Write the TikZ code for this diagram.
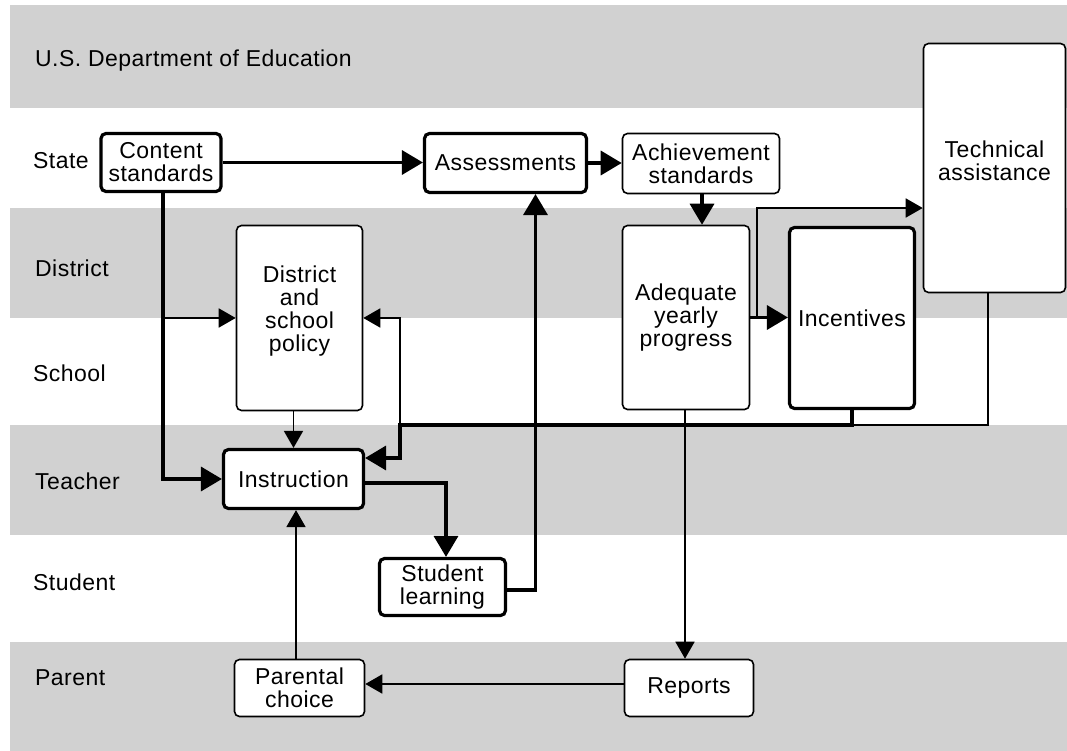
\documentclass[tikz,border=0pt]{standalone}
\usepackage{fontspec}
\setmainfont{Liberation Sans}[LetterSpace=2]
\usetikzlibrary{arrows.meta}
\definecolor{bandgray}{RGB}{209,209,209}
\begin{document}
\begin{tikzpicture}[x=1pt,y=-1pt,
  every node/.style={font=\fontsize{23pt}{23pt}\selectfont},
  box/.style={draw, fill=white, rounded corners=5pt, align=center, inner sep=0pt},
  thickbox/.style={box, line width=3.2pt},
  thinbox/.style={box, line width=1.6pt},
  boxtext/.style={align=center, inner sep=0pt},
  lanelabel/.style={anchor=west, text height=16.5pt, text depth=0pt, inner sep=0pt},
  heavy/.style={line width=3.5pt, -{Triangle[length=21pt,width=24pt]}},
  light/.style={line width=1.8pt, -{Triangle[length=17pt,width=19pt]}},
  plain/.style={line width=1.6pt}
]
\useasboundingbox (0,0) rectangle (1067,751);
\fill[white] (0,0) rectangle (1067,751);

% horizontal lanes
\fill[bandgray] (10,5) rectangle (1067,108);
\fill[bandgray] (10,208) rectangle (1067,318);
\fill[bandgray] (10,425) rectangle (1067,535);
\fill[bandgray] (10,642) rectangle (1067,751);

\node[lanelabel] (lfed)   at (35,58)  {U.S. Department of Education};
\node[lanelabel] (lstate) at (33,160) {State};
\node[lanelabel] (ldist)  at (35,268) {District};
\node[lanelabel] (lschool) at (33,373) {School};
\node[lanelabel] (lteach) at (35,481) {Teacher};
\node[lanelabel] (lstud)  at (33,582) {Student};
\node[lanelabel] (lpar)   at (35,677) {Parent};

% boxes
\node[thickbox, minimum width=120pt, minimum height=58pt] (cs) at (161,162.5) {Content\\standards};
\node[thickbox, minimum width=162pt, minimum height=59pt] (assess) at (505.5,163) {Assessments};
\node[thinbox, minimum width=157pt, minimum height=60pt] (achieve) at (701,163.5) {Achievement\\standards};
\node[thinbox, minimum width=142pt, minimum height=249pt] (ta) at (994.5,168) {};
\node[boxtext] (tatext) at ([yshift=7pt]ta.center) {Technical\\assistance};
\node[thickbox, minimum width=125pt, minimum height=181pt] (incent) at (852,318) {Incentives};
\node[thinbox, minimum width=127pt, minimum height=184pt] (ayp) at (686,317.5) {Adequate\\yearly\\progress};
\node[thinbox, minimum width=126pt, minimum height=185pt] (dsp) at (299.5,318) {};
\node[boxtext] (dsptext) at ([yshift=7pt]dsp.center) {District\\and\\school\\policy};
\node[thickbox, minimum width=140pt, minimum height=59pt] (instr) at (293.5,479) {Instruction};
\node[thickbox, minimum width=126pt, minimum height=57pt] (sl) at (442.5,587) {Student\\learning};
\node[thinbox, minimum width=130pt, minimum height=57pt] (pc) at (299.5,688) {Parental\\choice};
\node[thinbox, minimum width=129pt, minimum height=57pt] (rep) at (689,688) {Reports};

% state-level flow
\draw[heavy] (cs.east) -- (cs.east -| assess.west);
\draw[heavy] (assess.east) -- (assess.east -| achieve.west);
\draw[heavy] ([xshift=1pt]achieve.south) -- ([xshift=1pt]achieve.south |- ayp.north);

% content standards down to policy and instruction
\draw[heavy] ([xshift=2pt]cs.south) |- (instr.west);
\draw[light] ([xshift=2pt]cs.south |- dsp.west) -- (dsp.west);
\draw[light] (instr.north |- dsp.south) -- (instr.north);

% accountability feedback
\coordinate (fb) at (400,425);
\draw[plain] ([xshift=-6.5pt]ta.south) |- (incent.south |- fb);
\draw[heavy] (incent.south) -- (incent.south |- fb) -- (fb) |- ([yshift=21pt]instr.east);
\draw[light] (fb) |- (dsp.east);

% instruction and learning
\draw[heavy] ([yshift=-4pt]instr.east) -| ([xshift=3.5pt]sl.north);
\draw[heavy] ([yshift=-3pt]sl.east) -| ([xshift=30pt]assess.south);

% parents
\draw[light] ([xshift=-3.5pt]pc.north) -- ([xshift=-3.5pt]pc.north |- instr.south);
\draw[light] ([xshift=-1pt]ayp.south) -- ([xshift=-1pt]ayp.south |- rep.north);
\draw[light] ([yshift=4pt]rep.west) -- ([yshift=4pt]rep.west -| pc.east);

% yearly progress consequences
\draw[heavy] (ayp.east) -- (ayp.east -| incent.west);
\draw[light] ([xshift=7pt]ayp.east) |- ([yshift=-40pt]ta.west);
\end{tikzpicture}
\end{document}
